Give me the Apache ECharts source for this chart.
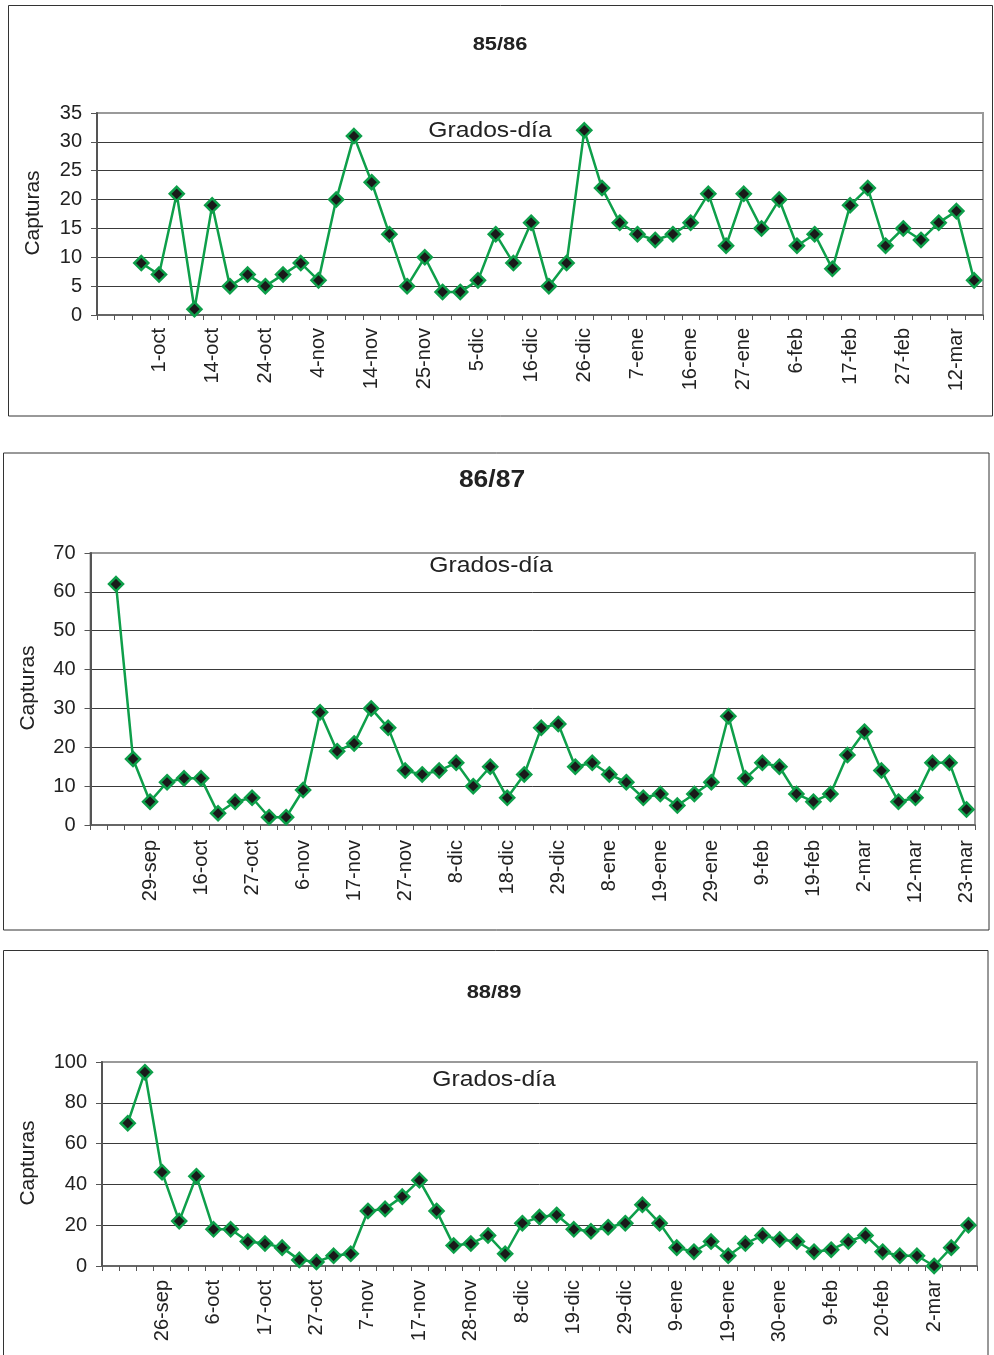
<!DOCTYPE html>
<html><head><meta charset="utf-8">
<script src="https://cdn.jsdelivr.net/npm/echarts@6/dist/echarts.min.js"></script>
<style>html,body{margin:0;padding:0;background:#fff}#c{width:994px;height:1355px}</style>
</head><body><div id="c"></div>
<script>
// ---- data ----
const titles = ['85/86', '86/87', '88/89'];
const seriesName = 'Grados-día';
const yName = 'Capturas';

const ticks8586 = ['1-oct','14-oct','24-oct','4-nov','14-nov','25-nov','5-dic','16-dic','26-dic','7-ene','16-ene','27-ene','6-feb','17-feb','27-feb','12-mar'];
const capt8586 = [null,null,9,7,21,1,19,5,7,5,7,9,6,20,31,23,14,5,10,4,4,6,14,9,16,5,9,32,22,16,14,13,14,16,21,12,21,15,20,12,14,8,19,22,12,15,13,16,18,6];

const ticks8687 = ['29-sep','16-oct','27-oct','6-nov','17-nov','27-nov','8-dic','18-dic','29-dic','8-ene','19-ene','29-ene','9-feb','19-feb','2-mar','12-mar','23-mar'];
const capt8687 = [null,62,17,6,11,12,12,3,6,7,2,2,9,29,19,21,30,25,14,13,14,16,10,15,7,13,25,26,15,16,13,11,7,8,5,8,11,28,12,16,15,8,6,8,18,24,14,6,7,16,16,4];

const ticks8889 = ['26-sep','6-oct','17-oct','27-oct','7-nov','17-nov','28-nov','8-dic','19-dic','29-dic','9-ene','19-ene','30-ene','9-feb','20-feb','2-mar'];
const capt8889 = [null,70,95,46,22,44,18,18,12,11,9,3,2,5,6,27,28,34,42,27,10,11,15,6,21,24,25,18,17,19,21,30,21,9,7,12,5,11,15,13,12,7,8,12,15,7,5,5,0,9,20];

const yMax = [35, 70, 100];
const yStep = [5, 10, 20];
const labelEvery = 3;

// ---- layout / style ----
const FONT = '"Liberation Sans", Arial, sans-serif';
const GREEN = '#0e9f4a';
const grids = [
  {left: 97, top: 113, width: 886, height: 202},
  {left: 90.5, top: 553, width: 884.5, height: 272},
  {left: 102, top: 1062, width: 875, height: 204}
];
const frames = [
  {x: 8.5, y: 5.5, w: 984, h: 410.5},
  {x: 3.5, y: 453, w: 985.5, h: 477},
  {x: 3.5, y: 950.5, w: 984.5, h: 430}
];
const titlePos = [[500, 45, 19], [492, 481, 23], [494, 993, 19]];
const legendPos = [[490, 131], [491, 566], [494, 1080]];
const yNamePos = [[33, 213], [28, 688], [28, 1163]];
const yLabelMargin = [15, 15, 15];
const xLabelMargin = [13, 15, 14];

const sets = [[ticks8586, capt8586], [ticks8687, capt8687], [ticks8889, capt8889]];

const xAxes = [], yAxes = [], series = [], graphics = [];
sets.forEach(([ticks, vals], k) => {
  const cats = vals.map((_, i) => String(i));
  const labelAt = {};
  ticks.forEach((t, i) => { labelAt[labelEvery * (i + 1)] = t; });
  xAxes.push({
    type: 'category', gridIndex: k, data: cats, boundaryGap: true,
    axisLine: {lineStyle: {color: '#555', width: 1.5}},
    axisTick: {show: true, interval: 0, length: 5, lineStyle: {color: '#555', width: 1}},
    axisLabel: {interval: 0, rotate: 90, margin: xLabelMargin[k], fontFamily: FONT, fontSize: 20, color: '#222',
      formatter: (v, i) => labelAt[i] || ''},
    splitLine: {show: false}
  });
  yAxes.push({
    type: 'value', gridIndex: k, min: 0, max: yMax[k], interval: yStep[k],
    axisLine: {show: true, lineStyle: {color: '#555', width: 2}},
    axisTick: {show: true, length: 6, lineStyle: {color: '#555', width: 1}},
    axisLabel: {margin: yLabelMargin[k], fontFamily: FONT, fontSize: 20, color: '#222'},
    splitLine: {show: true, showMinLine: false, showMaxLine: false, lineStyle: {color: '#3a3a3a', width: 1}}
  });
  series.push({
    type: 'line', name: seriesName, xAxisIndex: k, yAxisIndex: k, data: vals,
    connectNulls: false, symbol: 'diamond', symbolSize: 14, showAllSymbol: true,
    lineStyle: {color: GREEN, width: 2.5},
    itemStyle: {color: '#1a1a1a', borderColor: GREEN, borderWidth: 2.5},
    animation: false, z: 3
  });
  const f = frames[k];
  graphics.push({type: 'rect', shape: {x: f.x, y: f.y, width: f.w, height: f.h},
    style: {fill: null, stroke: '#333', lineWidth: 1}, z: -1, silent: true});
  const tp = titlePos[k];
  graphics.push({type: 'text', x: tp[0], y: tp[1], scaleX: 1.15,
    style: {text: titles[k], font: 'bold ' + tp[2] + 'px ' + FONT, fill: '#222', align: 'center', verticalAlign: 'middle'}});
  const lp = legendPos[k];
  graphics.push({type: 'text', x: lp[0], y: lp[1], scaleX: 1.12, z: 10,
    style: {text: seriesName, font: '22px ' + FONT, fill: '#222', align: 'center', verticalAlign: 'middle'}});
  const yp = yNamePos[k];
  graphics.push({type: 'text', x: yp[0], y: yp[1], rotation: Math.PI / 2,
    style: {text: yName, font: '21px ' + FONT, fill: '#222', align: 'center', verticalAlign: 'middle'}});
});

const chart = echarts.init(document.getElementById('c'), null, {renderer: 'canvas'});
chart.setOption({
  backgroundColor: '#fff',
  animation: false,
  grid: grids.map(g => Object.assign({show: true, backgroundColor: '#fff', borderColor: '#9a9a9a', borderWidth: 2,
    containLabel: false, outerBoundsMode: 'none'}, g)),
  xAxis: xAxes,
  yAxis: yAxes,
  series: series,
  graphic: graphics
});
</script>
</body></html>
